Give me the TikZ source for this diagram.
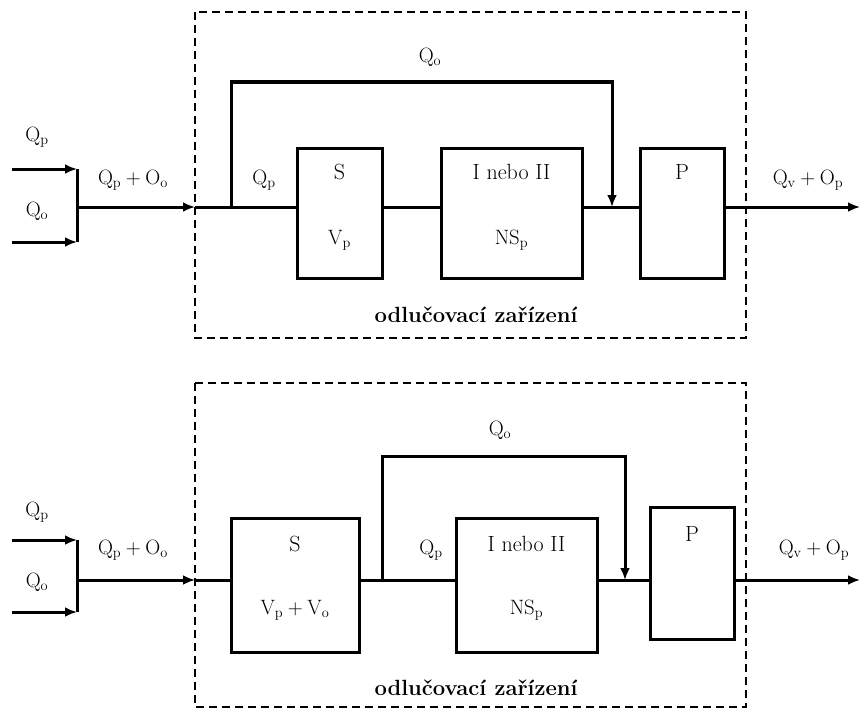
\documentclass[tikz,border=0pt]{standalone}
\usepackage{tikz}
\usetikzlibrary{arrows.meta}

\begin{document}
\begin{tikzpicture}[
  x=1pt, y=-1pt,
  font=\fontsize{22}{26}\selectfont,
  line width=3pt,
  unit/.style={draw, line width=3pt, minimum height=130pt, inner sep=0pt},
  frame/.style={draw, line width=2.6pt, dash pattern=on 8pt off 5pt},
  arr/.style={-{Latex[length=12pt, width=10pt]}},
  lbl/.style={inner sep=1pt},
  title/.style={font=\fontsize{22}{26}\selectfont\bfseries}
]
\useasboundingbox (0,0) rectangle (862,709);

% --- upper variant: bypass before S ---
\draw[frame] (195,12) rectangle (746,338);
\node[unit, minimum width=85pt]  (sa) at (339.5,213) {};
\node[unit, minimum width=141pt] (ia) at (511.5,213) {};
\node[unit, minimum width=84pt]  (pa) at (682,213) {};
\node (sat) at ([yshift=-25pt]sa.north) {S};
\node (sab) at ([yshift=-94pt]sa.north) {$\mathrm{V_p}$};
\node (iat) at ([yshift=-25pt]ia.north) {I nebo II};
\node (iab) at ([yshift=-94pt]ia.north) {$\mathrm{NS_p}$};
\node (pat) at ([yshift=-25pt]pa.north) {P};

\coordinate (qpa) at (12,169);
\coordinate (qoa) at (12,242);
\coordinate (ja)  at (77,207);
\coordinate (ea)  at (195,207);
\coordinate (ba)  at (231,207);
\coordinate (ma)  at (612,207);
\coordinate (oa)  at (860,207);

\draw[arr] (qpa) -- (qpa -| ja);
\draw[arr] (qoa) -- (qoa -| ja);
\draw (qpa -| ja) -- (qoa -| ja);
\draw[arr] (ja) -- (ea);
\draw (ea) -- (sa.west |- ea);
\draw (sa.east |- ea) -- (ia.west |- ea);
\draw (ia.east |- ea) -- (pa.west |- ea);
\draw[arr] (ba) -- ++(0,-125) -| (ma);
\draw[arr] (pa.east |- ea) -- (oa);

\node[lbl] (lqpa) at (37,137) {$\mathrm{Q_p}$};
\node[lbl] (lqoa) at (37,211) {$\mathrm{Q_o}$};
\node[lbl] (lina) at (133,180) {$\mathrm{Q_p + O_o}$};
\node[lbl] (lbpa) at (430,57) {$\mathrm{Q_o}$};
\node[lbl] (lsta) at (264,180) {$\mathrm{Q_p}$};
\node[lbl] (louta) at (808,180) {$\mathrm{Q_v + O_p}$};
\node[title] (tta) at (476,315) {odlučovací zařízení};

% --- lower variant: bypass behind S ---
\draw[frame] (195,383) rectangle (746,707);
\node[unit, minimum width=128pt, minimum height=134pt] (sb) at (295,585) {};
\node[unit, minimum width=141pt, minimum height=134pt] (ib) at (526.5,585) {};
\node[unit, minimum width=84pt, minimum height=132pt]  (pb) at (692,573) {};
\node (sbt) at ([yshift=-27pt]sb.north) {S};
\node (sbb) at ([yshift=-94pt]sb.north) {$\mathrm{V_p + V_o}$};
\node (ibt) at ([yshift=-27pt]ib.north) {I nebo II};
\node (ibb) at ([yshift=-94pt]ib.north) {$\mathrm{NS_p}$};
\node (pbt) at ([yshift=-28pt]pb.north) {P};

\coordinate (qpb) at (12,540);
\coordinate (qob) at (12,612);
\coordinate (jb)  at (77,580);
\coordinate (eb)  at (195,580);
\coordinate (bb)  at (382,580);
\coordinate (mb)  at (625,580);
\coordinate (ob)  at (860,580);

\draw[arr] (qpb) -- (qpb -| jb);
\draw[arr] (qob) -- (qob -| jb);
\draw (qpb -| jb) -- (qob -| jb);
\draw[arr] (jb) -- (eb);
\draw (eb) -- (sb.west |- eb);
\draw (sb.east |- eb) -- (ib.west |- eb);
\draw (ib.east |- eb) -- (pb.west |- eb);
\draw[arr] (bb) -- ++(0,-124) -| (mb);
\draw[arr] (pb.east |- eb) -- (ob);

\node[lbl] (lqpb) at (37,512) {$\mathrm{Q_p}$};
\node[lbl] (lqob) at (37,582) {$\mathrm{Q_o}$};
\node[lbl] (linb) at (133,550) {$\mathrm{Q_p + O_o}$};
\node[lbl] (lbpb) at (500,430) {$\mathrm{Q_o}$};
\node[lbl] (lstb) at (431,550) {$\mathrm{Q_p}$};
\node[lbl] (loutb) at (814,550) {$\mathrm{Q_v + O_p}$};
\node[title] (ttb) at (476,688) {odlučovací zařízení};
\end{tikzpicture}
\end{document}
